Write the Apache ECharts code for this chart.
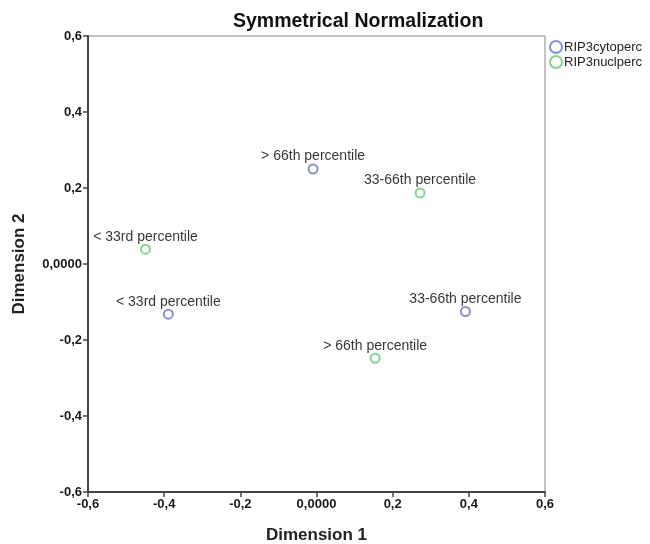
<!DOCTYPE html>
<html>
<head>
<meta charset="utf-8">
<script src="https://cdn.jsdelivr.net/npm/echarts@6/dist/echarts.min.js"></script>
<style>
  html, body { margin: 0; padding: 0; background: #fff; }
  #chart { width: 650px; height: 544px; }
</style>
</head>
<body>
<div id="chart"></div>
<script>
// category points
const categories = ['< 33rd percentile', '33-66th percentile', '> 66th percentile'];
const cytoDim1 = [-0.389, 0.391, -0.009];
const cytoDim2 = [-0.132, -0.125, 0.250];
const nuclDim1 = [-0.449, 0.272, 0.154];
const nuclDim2 = [0.039, 0.187, -0.248];
const seriesNames = ['RIP3cytoperc', 'RIP3nuclperc'];
const axisTicks = [-0.6, -0.4, -0.2, 0, 0.2, 0.4, 0.6];

const narrow = "'Liberation Sans Narrow', 'Liberation Sans', Arial, sans-serif";
const sans = "'Liberation Sans', Arial, sans-serif";

function tickLabel(v) {
    if (Math.abs(v) < 1e-9) return '0,0000';
    return v.toFixed(1).replace('.', ',');
}

function points(xs, ys) {
    return categories.map((c, i) => ({ name: c, value: [xs[i], ys[i]] }));
}

function axis(name, gap) {
    return {
        type: 'value',
        min: axisTicks[0],
        max: axisTicks[axisTicks.length - 1],
        interval: 0.2,
        name: name,
        nameLocation: 'middle',
        nameGap: gap,
        nameTextStyle: { fontFamily: sans, fontSize: 17, fontWeight: 'bold', color: '#222' },
        axisLine: { show: true, onZero: false, lineStyle: { color: '#444', width: 2 } },
        axisTick: { show: true, length: 5, lineStyle: { color: '#444', width: 1.5 } },
        axisLabel: { formatter: tickLabel, fontFamily: narrow, fontSize: 13, fontWeight: 'bold', color: '#1a1a1a', margin: 6 },
        splitLine: { show: false }
    };
}

let chart = echarts.init(document.getElementById('chart'));

let label = {
    show: true,
    position: 'top',
    distance: 0,
    formatter: '{b}',
    fontFamily: sans,
    fontSize: 14,
    color: '#000'
};

let option = {
    animation: false,
    backgroundColor: '#fff',
    title: {
        text: 'Symmetrical Normalization',
        left: 228,
        top: 7,
        textStyle: { fontFamily: sans, fontSize: 19.5, fontWeight: 'bold', color: '#111' }
    },
    legend: {
        orient: 'vertical',
        left: 544,
        top: 35,
        icon: 'emptyCircle',
        itemWidth: 12,
        itemHeight: 12,
        itemGap: 1,
        textStyle: { fontFamily: narrow, fontSize: 13, color: '#222', padding: [0, 0, 0, -3] },
        data: seriesNames
    },
    grid: {
        left: 88,
        right: 105,
        top: 36,
        bottom: 52,
        outerBoundsMode: 'none',
        show: true,
        borderColor: '#888',
        borderWidth: 1
    },
    xAxis: axis('Dimension 1', 35),
    yAxis: axis('Dimension 2', 60),
    series: [
        {
            name: seriesNames[0],
            type: 'scatter',
            symbol: 'emptyCircle',
            symbolSize: 9,
            itemStyle: { color: '#6676c8', borderWidth: 1.6 },
            label: label,
            data: points(cytoDim1, cytoDim2)
        },
        {
            name: seriesNames[1],
            type: 'scatter',
            symbol: 'emptyCircle',
            symbolSize: 9,
            itemStyle: { color: '#62cc6e', borderWidth: 1.6 },
            label: label,
            data: points(nuclDim1, nuclDim2)
        }
    ]
};

option && chart.setOption(option);
</script>
</body>
</html>
